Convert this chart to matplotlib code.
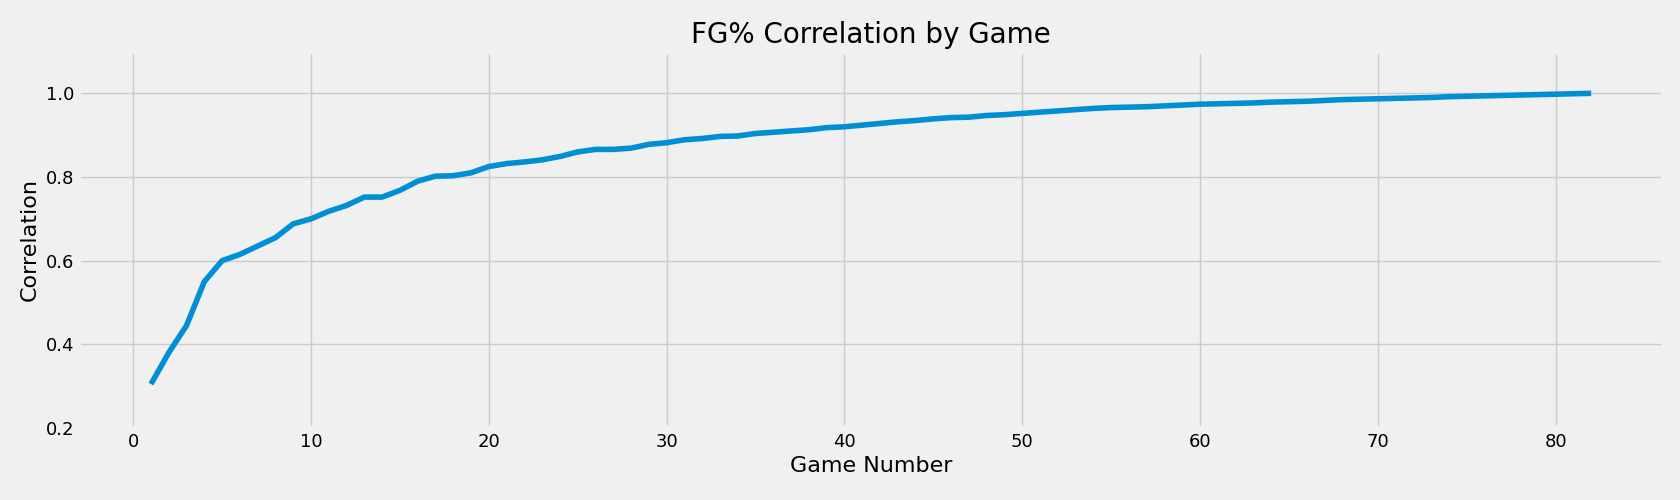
import matplotlib
matplotlib.use("Agg")
import matplotlib.pyplot as plt

plt.style.use("fivethirtyeight")

games = list(range(1, 83))
corr = [0.305, 0.38, 0.445, 0.55, 0.60, 0.615, 0.635, 0.655, 0.688, 0.70,
        0.718, 0.732, 0.752, 0.752, 0.768, 0.79, 0.802, 0.803, 0.81, 0.825,
        0.832, 0.836, 0.841, 0.849, 0.86, 0.866, 0.866, 0.869, 0.878, 0.882,
        0.889, 0.892, 0.897, 0.898, 0.904, 0.907, 0.910, 0.913, 0.918, 0.920,
        0.924, 0.928, 0.932, 0.935, 0.939, 0.942, 0.943, 0.947, 0.949, 0.952,
        0.955, 0.958, 0.961, 0.964, 0.966, 0.967, 0.968, 0.970, 0.972, 0.974,
        0.975, 0.976, 0.977, 0.979, 0.980, 0.981, 0.983, 0.985, 0.986, 0.987,
        0.988, 0.989, 0.990, 0.992, 0.993, 0.994, 0.995, 0.996, 0.997, 0.998,
        0.999, 1.0]

fig, ax = plt.subplots(figsize=(16.8, 5), dpi=100)
ax.plot(games, corr, color="#008fd5", lw=4)
ax.set_ylim(0.2, 1.1)
ax.set_yticks([0.2, 0.4, 0.6, 0.8, 1.0])
ax.set_xticks(range(0, 81, 10))
ax.set_title("FG% Correlation by Game", fontsize=20)
ax.set_xlabel("Game Number", fontsize=16)
ax.set_ylabel("Correlation", fontsize=16)
ax.tick_params(labelsize=13)
fig.subplots_adjust(left=0.047, right=0.99, top=0.897, bottom=0.144)
fig.savefig("out.png", facecolor=fig.get_facecolor())
